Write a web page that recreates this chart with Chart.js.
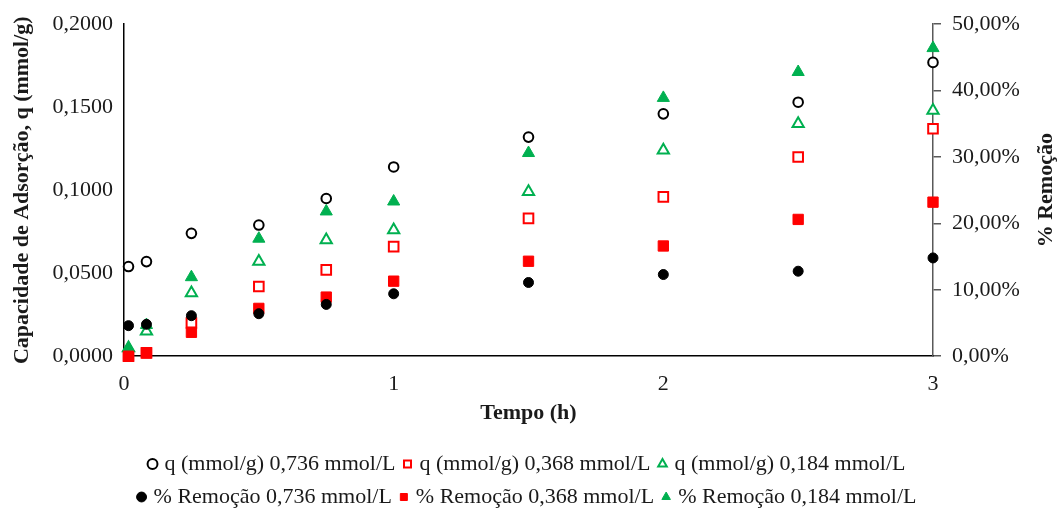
<!DOCTYPE html>
<html>
<head>
<meta charset="utf-8">
<script src="https://cdn.jsdelivr.net/npm/chart.js@4/dist/chart.umd.min.js"></script>
<style>
html, body { margin:0; padding:0; background:#ffffff; }
#wrap { width:1057px; height:514px; }
</style>
</head>
<body>
<div id="wrap"><canvas id="adsChart" width="1057" height="514"></canvas></div>
<script>
//------------------------------------
// Data
//------------------------------------
let tempos = [0.0167, 0.0833, 0.25, 0.5, 0.75, 1, 1.5, 2, 2.5, 3];

let q0736 = [0.054, 0.057, 0.074, 0.079, 0.095, 0.114, 0.132, 0.146, 0.153, 0.177];
let q0368 = [0.000, 0.002, 0.020, 0.042, 0.052, 0.066, 0.083, 0.096, 0.120, 0.137];
let q0184 = [0.005, 0.015, 0.038, 0.057, 0.070, 0.076, 0.099, 0.124, 0.140, 0.148];

let rem0736 = [4.6, 4.8, 6.1, 6.4, 7.8, 9.4, 11.1, 12.3, 12.8, 14.8];
let rem0368 = [0.0, 0.5, 3.6, 7.2, 8.9, 11.3, 14.3, 16.6, 20.6, 23.2];
let rem0184 = [1.2, 4.7, 11.9, 17.7, 21.8, 23.3, 30.6, 38.9, 42.8, 46.4];

let rotulosQ = ["0,0000", "0,0500", "0,1000", "0,1500", "0,2000"];
let rotulosRem = ["0,00%", "10,00%", "20,00%", "30,00%", "40,00%", "50,00%"];
let rotulosTempo = ["0", "1", "2", "3"];

let tituloEsq = "Capacidade de Adsorção, q (mmol/g)";
let tituloDir = "% Remoção";
let tituloX = "Tempo (h)";

const fonte = '"Liberation Serif", "Times New Roman", serif';
const verde = "#00B050";
const vermelho = "#FF0000";

function pontos(serie){
    return tempos.map((t, i) => ({ x: t, y: serie[i] }));
}

//------------------------------------
// Right axis title (reads bottom to top)
//------------------------------------
const tituloDireito = {
    id: "tituloDireito",
    afterDraw(chart){
        const ctx = chart.ctx;
        const area = chart.chartArea;
        ctx.save();
        ctx.translate(chart.width - 11, (area.top + area.bottom) / 2);
        ctx.rotate(-Math.PI / 2);
        ctx.font = "bold 22px " + fonte;
        ctx.fillStyle = "#1a1a1a";
        ctx.textAlign = "center";
        ctx.textBaseline = "middle";
        ctx.fillText(tituloDir, 0, 0);
        ctx.restore();
    }
};

//------------------------------------
// Chart
//------------------------------------
new Chart(document.getElementById("adsChart"), {
    type: "scatter",
    data: {
        datasets: [
            { label: "q (mmol/g) 0,736 mmol/L", data: pontos(q0736), yAxisID: "y",
              pointStyle: "circle", radius: 4.8, borderWidth: 2,
              borderColor: "#000000", backgroundColor: "#ffffff", order: 1, clip: false },
            { label: "q (mmol/g) 0,368 mmol/L", data: pontos(q0368), yAxisID: "y",
              pointStyle: "rect", radius: 6.8, borderWidth: 2,
              borderColor: vermelho, backgroundColor: "#ffffff", order: 1, clip: false },
            { label: "q (mmol/g) 0,184 mmol/L", data: pontos(q0184), yAxisID: "y",
              pointStyle: "triangle", radius: 6.5, borderWidth: 2,
              borderColor: verde, backgroundColor: "#ffffff", order: 1, clip: false },
            { label: "% Remoção 0,736 mmol/L", data: pontos(rem0736), yAxisID: "y2",
              pointStyle: "circle", radius: 5, borderWidth: 1,
              borderColor: "#000000", backgroundColor: "#000000", order: 0, clip: false },
            { label: "% Remoção 0,368 mmol/L", data: pontos(rem0368), yAxisID: "y2",
              pointStyle: "rect", radius: 7.3, borderWidth: 1,
              borderColor: vermelho, backgroundColor: vermelho, order: 0, clip: false },
            { label: "% Remoção 0,184 mmol/L", data: pontos(rem0184), yAxisID: "y2",
              pointStyle: "triangle", radius: 7, borderWidth: 1,
              borderColor: verde, backgroundColor: verde, order: 0, clip: false }
        ]
    },
    options: {
        responsive: false,
        animation: false,
        events: [],
        layout: { padding: { top: 22, right: 0, bottom: -4, left: 0 } },
        plugins: {
            tooltip: { enabled: false },
            legend: {
                position: "bottom",
                fullSize: false,
                labels: {
                    usePointStyle: true,
                    boxWidth: 2,
                    boxHeight: 7,
                    padding: 11,
                    color: "#1a1a1a",
                    font: { family: fonte, size: 22 },
                    sort: (a, b) => a.datasetIndex - b.datasetIndex
                }
            }
        },
        scales: {
            x: {
                type: "linear",
                position: "bottom",
                min: 0,
                max: 3,
                ticks: {
                    stepSize: 1,
                    padding: 15,
                    color: "#1a1a1a",
                    font: { family: fonte, size: 22 },
                    callback: (v) => rotulosTempo[Math.round(v)]
                },
                grid: { display: false, drawTicks: false },
                border: { display: true, color: "#000000", width: 1.5 },
                title: {
                    display: true,
                    text: tituloX,
                    color: "#1a1a1a",
                    font: { family: fonte, size: 22, weight: "bold" },
                    padding: { top: -12, bottom: 15 }
                }
            },
            y: {
                position: "left",
                min: 0,
                max: 0.2,
                afterFit(scale){ scale.width = 124; },
                ticks: {
                    stepSize: 0.05,
                    padding: 11,
                    color: "#1a1a1a",
                    font: { family: fonte, size: 22 },
                    callback: (v) => rotulosQ[Math.round(v / 0.05)]
                },
                grid: { display: false, drawTicks: false },
                border: { display: true, color: "#000000", width: 1.5 },
                title: {
                    display: true,
                    text: tituloEsq,
                    color: "#1a1a1a",
                    font: { family: fonte, size: 22, weight: "bold" },
                    padding: { top: 9, bottom: 0 }
                }
            },
            y2: {
                position: "right",
                min: 0,
                max: 50,
                afterFit(scale){ scale.width = 124; },
                ticks: {
                    stepSize: 10,
                    padding: 11,
                    color: "#1a1a1a",
                    font: { family: fonte, size: 22 },
                    callback: (v) => rotulosRem[Math.round(v / 10)]
                },
                grid: {
                    display: true,
                    drawOnChartArea: false,
                    drawTicks: true,
                    tickLength: 8,
                    color: "#595959",
                    lineWidth: 1.5
                },
                border: { display: true, color: "#595959", width: 1.5 }
            }
        }
    },
    plugins: [tituloDireito]
});
</script>
</body>
</html>
